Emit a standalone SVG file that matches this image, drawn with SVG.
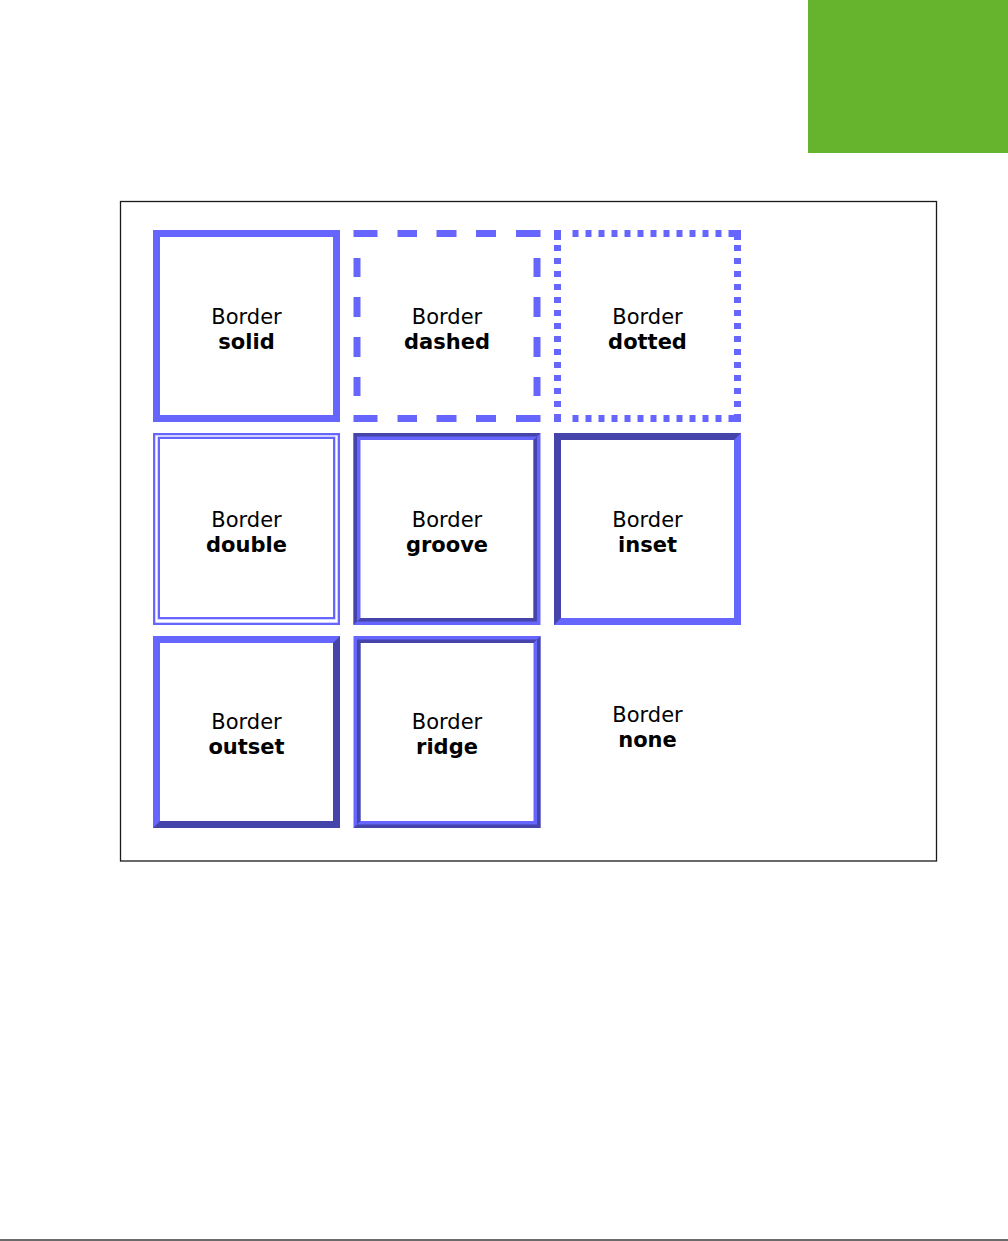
<svg xmlns="http://www.w3.org/2000/svg" width="1008" height="1241" viewBox="0 0 1008 1241">
<style>
.L{fill:#6666FF}
.D{fill:#4444AA}
.sL{fill:none;stroke:#6666FF;stroke-width:7}
.sD{fill:none;stroke:#4444AA;stroke-width:7}
.dbl{fill:none;stroke:#6666FF;stroke-width:2.3}
.dot{fill:none;stroke:#6666FF;stroke-width:7;stroke-dasharray:6 7}
text{font-family:"DejaVu Sans",Verdana,sans-serif;font-size:21px;fill:#000;text-anchor:middle}
.b{font-weight:bold}
</style>
<rect width="1008" height="1241" fill="#fff"/>
<rect id="green-tab" x="808" y="0" width="200" height="153" fill="#66B42D"/>
<rect id="frame" x="120.5" y="201.5" width="816" height="659.5" fill="none" stroke="#1a1a1a" stroke-width="1.3"/>
<rect id="bottom-rule" x="0" y="1239" width="1008" height="2" fill="#6a6a6a"/>

<g id="box-solid">
<rect class="sL" x="156.5" y="233.5" width="180" height="185"/>
<text x="246.5" y="324.3">Border</text>
<text class="b" x="246.5" y="349.3">solid</text>
</g>

<g id="box-dashed">
<path class="L" d="M353.5 230H377.5V237H353.5z M397.5 230H417V237H397.5z M436.5 230H456.5V237H436.5z M476 230H496V237H476z M516 230H540.5V237H516z
M353.5 415H377.5V422H353.5z M397.5 415H417V422H397.5z M436.5 415H456.5V422H436.5z M476 415H496V422H476z M516 415H540.5V422H516z
M353.5 258H360.5V277H353.5z M353.5 297H360.5V317H353.5z M353.5 337H360.5V357H353.5z M353.5 377H360.5V396H353.5z
M533.5 258H540.5V277H533.5z M533.5 297H540.5V317H533.5z M533.5 337H540.5V357H533.5z M533.5 377H540.5V396H533.5z"/>
<text x="447" y="324.3">Border</text>
<text class="b" x="447" y="349.3">dashed</text>
</g>

<g id="box-dotted">
<path class="L" d="M554 230H561V240H554z M734 230H741V240H734z M554 415H561V422H554z M734 415H741V422H734z"/>
<line class="dot" x1="572.5" y1="233.5" x2="734.5" y2="233.5"/>
<line class="dot" x1="572.5" y1="418.5" x2="734.5" y2="418.5"/>
<line class="dot" x1="557.5" y1="245" x2="557.5" y2="420"/>
<line class="dot" x1="737.5" y1="245" x2="737.5" y2="420"/>
<text x="647.5" y="324.3">Border</text>
<text class="b" x="647.5" y="349.3">dotted</text>
</g>

<g id="box-double">
<rect class="dbl" x="154.15" y="434.15" width="184.7" height="189.7"/>
<rect class="dbl" x="158.85" y="437.85" width="175.3" height="180.3"/>
<text x="246.5" y="527.3">Border</text>
<text class="b" x="246.5" y="552.3">double</text>
</g>

<g id="box-groove">
<rect class="sL" x="357" y="436.5" width="180" height="185"/>
<polygon class="D" points="353.5,433 540.5,433 537,436.5 357,436.5 357,621.5 353.5,625"/>
<polygon class="D" points="537,436.5 537,621.5 357,621.5 360.5,618 533.5,618 533.5,440"/>
<text x="447" y="527.3">Border</text>
<text class="b" x="447" y="552.3">groove</text>
</g>

<g id="box-inset">
<rect class="sL" x="557.5" y="436.5" width="180" height="185"/>
<polygon class="D" points="554,433 741,433 734,440 561,440 561,618 554,625"/>
<text x="647.5" y="527.3">Border</text>
<text class="b" x="647.5" y="552.3">inset</text>
</g>

<g id="box-outset">
<rect class="sD" x="156.5" y="639.5" width="180" height="185"/>
<polygon class="L" points="153,636 340,636 333,643 160,643 160,821 153,828"/>
<text x="246.5" y="729.3">Border</text>
<text class="b" x="246.5" y="754.3">outset</text>
</g>

<g id="box-ridge">
<rect class="sL" x="357" y="639.5" width="180" height="185"/>
<polygon class="D" points="540.5,636 540.5,828 353.5,828 357,824.5 537,824.5 537,639.5"/>
<polygon class="D" points="357,639.5 537,639.5 533.5,643 360.5,643 360.5,821 357,824.5"/>
<text x="447" y="729.3">Border</text>
<text class="b" x="447" y="754.3">ridge</text>
</g>

<g id="box-none">
<text x="647.5" y="722.3">Border</text>
<text class="b" x="647.5" y="747.3">none</text>
</g>
</svg>
